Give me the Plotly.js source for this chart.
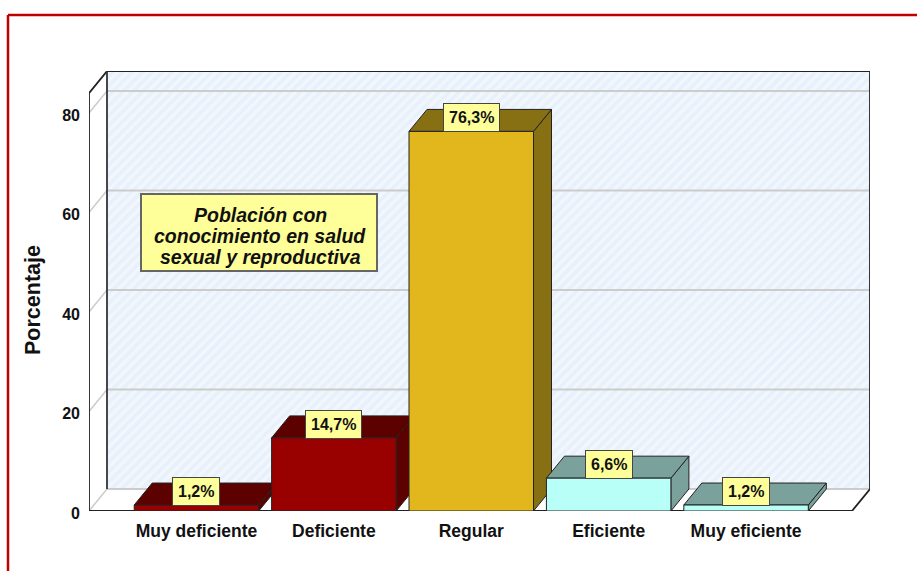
<!DOCTYPE html>
<html><head><meta charset="utf-8">
<script src="https://cdn.plot.ly/plotly-3.0.1.min.js"></script>
<style>html,body{margin:0;padding:0;background:#fff}</style></head>
<body><div id="c" style="width:917px;height:571px"></div>
<script>
const categories = ["Muy deficiente","Deficiente","Regular","Eficiente","Muy eficiente"];
const values = [1.2,14.7,76.3,6.6,1.2];
const valueLabels = ["1,2%","14,7%","76,3%","6,6%","1,2%"];
const frontColors = ["#990000","#990000","#e1b71d","#b8fff8","#b8fff8"];
const shadeColors = ["#5c0000","#5c0000","#877013","#7aa19c","#7aa19c"];
const yTicks = [0,20,40,60,80];
const noteLines = ["Población con","conocimiento en salud","sexual y reproductiva"];
const yTitle = "Porcentaje";

const FONT = '"Liberation Sans", Arial, sans-serif';
const positions = categories.map((_, i) => i);
const xRange = [-0.782, 4.902], yRange = [0, 88.44];
const dx = 0.131, dy = 4.42, hw = 0.453, wallTop = 84;
const xL = xRange[0], xR = xRange[1] - dx;
const px = p => (p - 89) / 781, py = p => (511 - p) / 440;

const line = (xs, ys, color, width) => ({type:'scatter', mode:'lines', x:xs, y:ys,
  line:{color, width}, hoverinfo:'skip', showlegend:false, cliponaxis:false});
const poly = (xs, ys, color) => ({type:'scatter', mode:'lines', x:xs, y:ys, fill:'toself',
  fillcolor:color, line:{color:'#222', width:1}, hoverinfo:'skip', showlegend:false});

const traces = [];
traces.push({type:'bar', x:[(xL+dx+xRange[1])/2], y:[wallTop], base:[dy], width:[xR-xL],
  marker:{color:'#e9f2fb', line:{width:0}, pattern:{shape:'/', bgcolor:'#e8f1fb', fgcolor:'#f2f7fd', size:7, solidity:0.45}},
  hoverinfo:'skip', showlegend:false});
yTicks.forEach(v => {
  traces.push(line([xL+dx, xRange[1]], [v+dy, v+dy], '#cccccc', 2));
  traces.push(line([xL, xL+dx], [v, v+dy], '#cccccc', 1.5));
});
traces.push(line([xL, xL, xL+dx, xRange[1], xRange[1], xR, xL], [0, wallTop, wallTop+dy, wallTop+dy, dy, 0, 0], '#222', 1.8));
traces.push(line([xL+dx, xL+dx], [dy, wallTop+dy], '#333', 1.8));
values.forEach((v, i) => {
  const c = positions[i];
  traces.push(poly([c+hw, c+hw+dx, c+hw+dx, c+hw, c+hw], [0, dy, v+dy, v, 0], shadeColors[i]));
  traces.push(poly([c-hw, c-hw+dx, c+hw+dx, c+hw, c-hw], [v, v+dy, v+dy, v, v], shadeColors[i]));
});
traces.push({type:'bar', x:positions, y:values, width:hw*2, xaxis:'x2', yaxis:'y2',
  marker:{color:frontColors, line:{color:'#222', width:1}}, hoverinfo:'skip', showlegend:false});

const noteY = [215, 236, 257];
const layout = {
  width:917, height:571, margin:{l:89, r:47, t:71, b:60},
  paper_bgcolor:'#fff', plot_bgcolor:'rgba(0,0,0,0)', showlegend:false, barmode:'overlay',
  font:{family:FONT, color:'#111'},
  xaxis:{range:xRange, tickmode:'array', tickvals:positions, ticktext:categories, showgrid:false, zeroline:false,
    showline:false, ticks:'', ticklabelstandoff:7, tickfont:{family:FONT, size:17.5, color:'#111', weight:'bold'}},
  yaxis:{range:yRange, tickmode:'array', tickvals:yTicks, showgrid:false, zeroline:false, showline:false, ticks:'',
    ticklabelstandoff:8, ticklabelshift:2, tickfont:{family:FONT, size:16, color:'#111', weight:'bold'}},
  xaxis2:{range:xRange, overlaying:'x', visible:false},
  yaxis2:{range:yRange, overlaying:'y', visible:false},
  annotations: values.map((v,i) => ({x:positions[i], y:v, xref:'x', yref:'y', xanchor:'center', yanchor:'bottom', showarrow:false,
      yshift:-1, text:'<b>'+valueLabels[i]+'</b>', font:{family:FONT, size:16, color:'#111'},
      bgcolor:'#ffff99', bordercolor:'#444', borderwidth:1, borderpad:5}))
    .concat(noteLines.map((t,i) => ({xref:'paper', yref:'paper', x:px(260), y:py(noteY[i]), xanchor:'center', yanchor:'middle', showarrow:false,
      text:'<b><i>'+t+'</i></b>', font:{family:FONT, size:19.5, color:'#111'}})))
    .concat([{xref:'paper', yref:'paper', x:px(32.5), y:py(300.5), xanchor:'center', yanchor:'middle', showarrow:false, textangle:-90,
      text:'<b>'+yTitle+'</b>', font:{family:FONT, size:21.5, color:'#111'}}]),
  shapes:[
    {type:'rect', xref:'paper', yref:'paper', x0:px(141), x1:px(377), y0:py(271), y1:py(194), fillcolor:'#ffff99', line:{color:'#666', width:2}, layer:'above'},
    {type:'line', xref:'paper', yref:'paper', x0:px(8), x1:1.1, y0:py(15), y1:py(15), line:{color:'#c00000', width:2.5}},
    {type:'line', xref:'paper', yref:'paper', x0:px(8), x1:px(8), y0:py(15), y1:py(580), line:{color:'#c00000', width:2.5}}
  ]
};
Plotly.newPlot('c', traces, layout, {displayModeBar:false, staticPlot:true});
</script></body></html>
